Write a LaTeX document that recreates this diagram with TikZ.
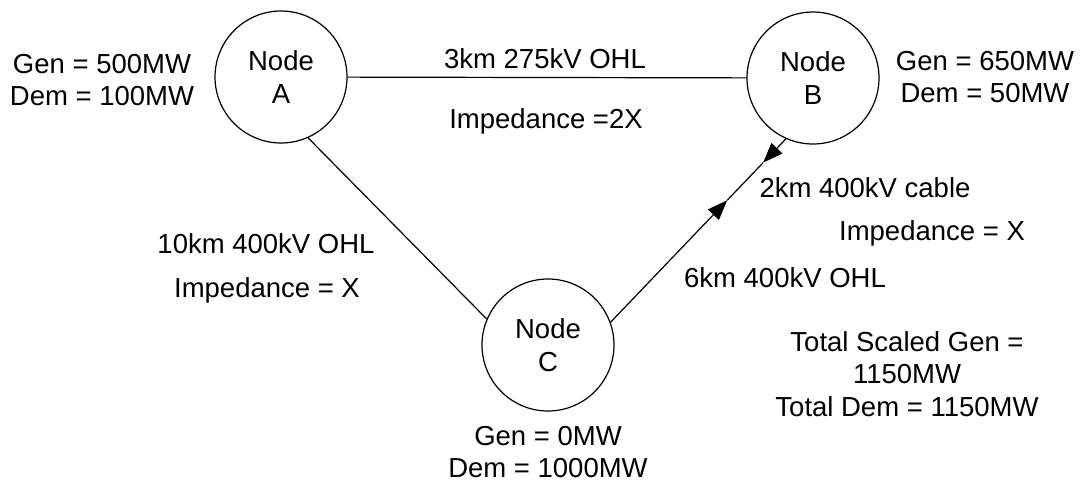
\documentclass[tikz,border=0pt]{standalone}
\usepackage{fontspec}
\setmainfont{Liberation Sans}
\usetikzlibrary{arrows.meta,calc}
\begin{document}
\begin{tikzpicture}[
        x=1pt, y=-1pt,
        bus/.style={circle, draw=black, minimum size=132pt, inner sep=0pt, line width=1.2pt, align=center, font=\fontsize{27.5}{33}\selectfont},
        info/.style={align=center, inner sep=0pt, font=\fontsize{27.5}{32.5}\selectfont},
        link/.style={-, black, line width=1.2pt},
        flow/.style={link, -{Triangle[length=20pt, width=15pt]}}
    ]
        \useasboundingbox (0,0) rectangle (1081,482);

        % Busbar nodes
        \node[bus] (A) at (281,77) {Node\\A};
        \node[bus] (B) at (813,78) {Node\\B};
        \node[bus] (C) at (548,345) {Node\\C};

        % Generation and demand at each node
        \node[info] (genA) at (102,80) {Gen = 500MW\\Dem = 100MW};
        \node[info] (genB) at (985,77) {Gen = 650MW\\Dem = 50MW};
        \node[info] (genC) at (548,452) {Gen = 0MW\\Dem = 1000MW};
        \node[info] (total) at (907,374) {Total Scaled Gen =\\1150MW\\Total Dem = 1150MW};

        % Line labels
        \node[info, anchor=base] (ab) at (545,68) {3km 275kV OHL};
        \node[info, anchor=base] (abZ) at (546,128) {Impedance =2X};
        \node[info, anchor=base] (ac) at (266,253) {10km 400kV OHL};
        \node[info, anchor=base] (acZ) at (267,297) {Impedance = X};
        \node[info, anchor=base] (bc) at (865,197) {2km 400kV cable};
        \node[info, anchor=base] (bcZ) at (932,240) {Impedance = X};
        \node[info, anchor=base] (cb) at (785,287) {6km 400kV OHL};

        % Connections
        \draw[link] (A) -- (B);
        \draw[link] (A.-66) -- (C.157);
        \coordinate (mid) at ($(C.20)!0.665!(B.-114)$);
        \coordinate (near) at ($(C.20)!0.87!(B.-114)$);
        \draw[flow] (C.20) -- (mid);
        \draw[link] (mid) -- (near);
        \draw[flow] (B.-114) -- (near);
    \end{tikzpicture}
\end{document}
